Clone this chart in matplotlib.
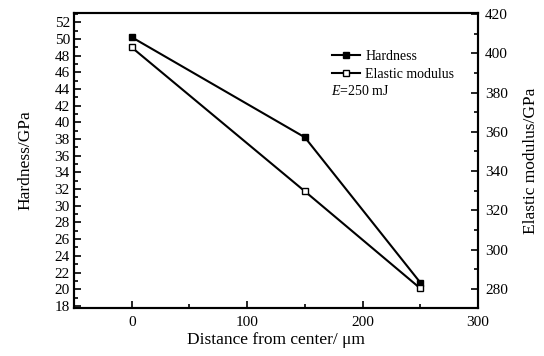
import matplotlib
matplotlib.use("Agg")
import matplotlib.pyplot as plt
from matplotlib.lines import Line2D
from matplotlib.ticker import MultipleLocator

plt.rcParams['font.family'] = ['Liberation Serif', 'DejaVu Serif']
plt.rcParams['mathtext.fontset'] = 'custom'
plt.rcParams['mathtext.it'] = 'Liberation Serif:italic'
plt.rcParams['mathtext.rm'] = 'Liberation Serif'

distance = [0, 150, 250]
hardness = [50.2, 38.2, 20.8]
elastic_modulus = [403, 329.7, 280.3]

fig = plt.figure(figsize=(5.44, 3.56), dpi=100)
ax = fig.add_axes([74/544, 1-308/356, (478-74)/544, (308-13)/356])
ax2 = ax.twinx()

ax.plot(distance, hardness, '-', color='black', lw=1.5, marker='s',
        ms=4.5, mfc='black', mec='black', zorder=3)
ax2.plot(distance, elastic_modulus, '-', color='black', lw=1.5, marker='s',
         ms=4.5, mfc='white', mec='black', mew=1.0, zorder=3)

ax.set_xlim(-50, 300)
ax.set_ylim(17.75, 53.1)
ax2.set_ylim(270.3, 420.5)

ax.xaxis.set_major_locator(MultipleLocator(100))
ax.xaxis.set_minor_locator(MultipleLocator(50))
ax.yaxis.set_major_locator(MultipleLocator(2))
ax.yaxis.set_minor_locator(MultipleLocator(1))
ax2.yaxis.set_major_locator(MultipleLocator(20))
ax2.yaxis.set_minor_locator(MultipleLocator(10))

for a in (ax, ax2):
    a.tick_params(which='both', direction='in', width=1.2, labelsize=11)
    a.tick_params(which='major', length=5)
    a.tick_params(which='minor', length=3)
    for s in a.spines.values():
        s.set_linewidth(1.5)
ax.tick_params(axis='y', which='both', right=False)
ax.tick_params(axis='x', which='both', top=False, pad=6)
ax.tick_params(axis='y', pad=3)
ax2.tick_params(axis='y', pad=5)

ax.set_xlabel('Distance from center/ \u03bcm', fontsize=12.5, labelpad=2)
ax.set_ylabel('Hardness/GPa', fontsize=12.5, labelpad=15)
ax2.set_ylabel('Elastic modulus/GPa', fontsize=12.5, labelpad=11)

handles = [
    Line2D([], [], color='black', lw=1.5, marker='s', ms=4, mfc='black', mec='black'),
    Line2D([], [], color='black', lw=1.5, marker='s', ms=4, mfc='white', mec='black'),
]
leg = ax.legend(handles, ['Hardness', 'Elastic modulus'], loc='upper left',
                bbox_to_anchor=(0.625, 0.895), frameon=False, fontsize=10,
                handlelength=2.0, handletextpad=0.4, labelspacing=0.4,
                borderaxespad=0)
ax.text(0.635, 0.735, '$E$=250 mJ', transform=ax.transAxes, fontsize=10,
        ha='left', va='center')

fig.savefig('out.png', dpi=100)
